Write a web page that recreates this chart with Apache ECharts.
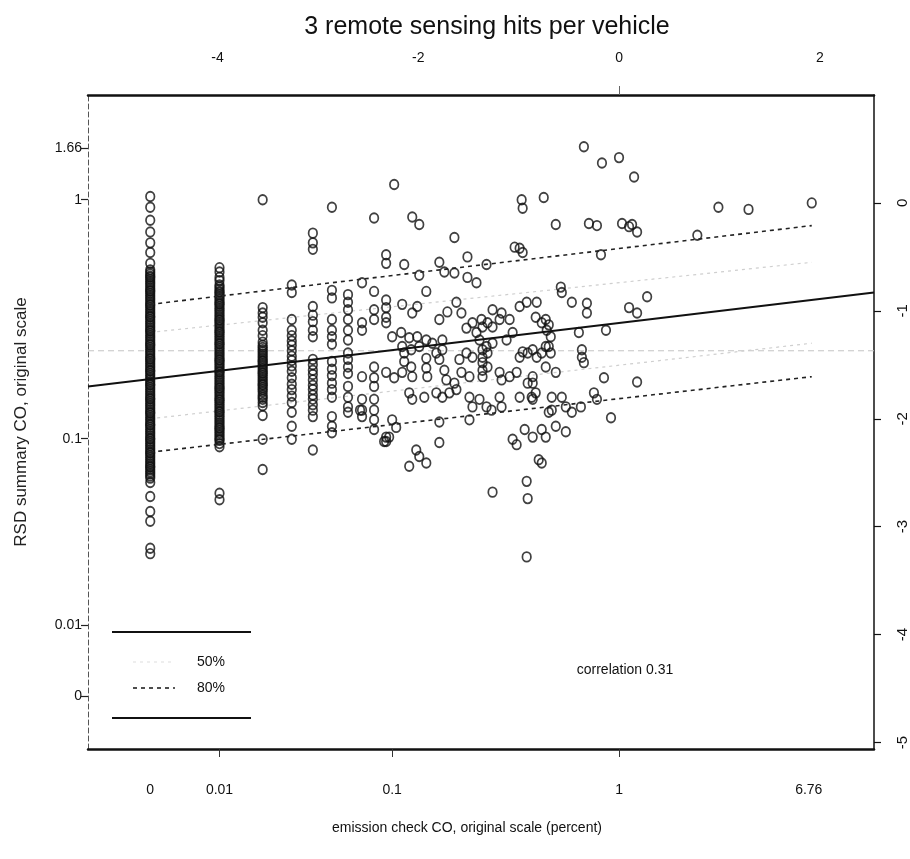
<!DOCTYPE html>
<html>
<head>
<meta charset="utf-8">
<script src="https://cdn.jsdelivr.net/npm/echarts@6/dist/echarts.min.js"></script>
<style>
  html, body { margin: 0; padding: 0; background: #fff; }
  #chart { width: 910px; height: 859px; }
</style>
</head>
<body>
<div id="chart"></div>
<script>
// ---- Axis ranges (transformed scale: top / right axes) ----
const xRange = [-5.29, 2.54];
const yRange = [-5.06, 1.0];

// ---- Tick labels ----
const topLabelVals = [-4, -2, 0, 2];
const topTickVals = [0];
const rightLabelVals = [0, -1, -2, -3, -4, -5];
const bottomLabelPos = [-4.67, -3.98, -2.26, 0, 1.89];
const bottomLabelText = ['0', '0.01', '0.1', '1', '6.76'];
const bottomTickPos = [-3.98, -2.26, 0];
const leftLabelPos = [0.51, 0.03, -2.185, -3.91, -4.57];
const leftLabelText = ['1.66', '1', '0.1', '0.01', '0'];

// ---- Discrete emission-check columns (x) and their RSD values (y) ----
const columnX = [-4.67, -3.98, -3.55, -3.26, -3.05, -2.86, -2.70, -2.56, -2.44, -2.32];
const columnY = [
  [0.06, -0.04, -0.16, -0.27, -0.37, -0.46, -0.56,
   -0.62, -0.64, -0.66, -0.68, -0.69, -0.71, -0.73, -0.75, -0.77, -0.79, -0.81, -0.82, -0.84, -0.86, -0.88, -0.90,
   -0.92, -0.94, -0.95, -0.97, -0.99, -1.01, -1.03, -1.05, -1.06, -1.08, -1.10, -1.12, -1.14, -1.16, -1.18, -1.19,
   -1.21, -1.23, -1.25, -1.27, -1.29, -1.31, -1.32, -1.34, -1.36, -1.38, -1.40, -1.42, -1.44, -1.45, -1.47, -1.49,
   -1.51, -1.53, -1.55, -1.56, -1.58, -1.60, -1.62, -1.64, -1.66, -1.68, -1.69, -1.71, -1.73, -1.75, -1.77, -1.79,
   -1.81, -1.82, -1.84, -1.86, -1.88, -1.90, -1.92, -1.94, -1.95, -1.97, -1.99, -2.01, -2.03, -2.05, -2.06, -2.08,
   -2.10, -2.12, -2.14, -2.16, -2.18, -2.19, -2.21, -2.23, -2.25, -2.27, -2.29, -2.31, -2.32, -2.34, -2.36, -2.38,
   -2.40, -2.42, -2.44, -2.45, -2.47, -2.49, -2.51, -2.53, -2.55,
   -2.59, -2.72, -2.86, -2.95, -3.20, -3.25],
  [-0.60, -0.64, -0.69, -0.72, -0.76, -0.78, -0.80, -0.82, -0.83, -0.85, -0.87, -0.89, -0.91, -0.93, -0.94, -0.96,
   -0.98, -1.00, -1.02, -1.04, -1.06, -1.08, -1.09, -1.11, -1.13, -1.15, -1.17, -1.19, -1.20, -1.22, -1.24, -1.26,
   -1.28, -1.30, -1.31, -1.33, -1.35, -1.37, -1.39, -1.41, -1.43, -1.45, -1.46, -1.48, -1.50, -1.52, -1.54, -1.56,
   -1.57, -1.59, -1.61, -1.63, -1.65, -1.67, -1.69, -1.71, -1.72, -1.74, -1.76, -1.78, -1.80, -1.82, -1.83, -1.85,
   -1.87, -1.89, -1.91, -1.93, -1.94, -1.96, -1.98, -2.00, -2.02, -2.04, -2.06, -2.08, -2.09, -2.11, -2.13, -2.15,
   -2.17, -2.19, -2.20, -2.23, -2.26, -2.69, -2.75],
  [0.03, -0.97, -1.02, -1.06, -1.11, -1.18, -1.23, -1.29, -1.32, -1.34, -1.36, -1.38, -1.40, -1.42, -1.44, -1.46,
   -1.47, -1.49, -1.51, -1.53, -1.55, -1.57, -1.58, -1.60, -1.62, -1.64, -1.66, -1.68, -1.69, -1.71, -1.73, -1.75,
   -1.78, -1.80, -1.82, -1.85, -1.88, -1.97, -2.19, -2.47],
  [-0.76, -0.83, -1.08, -1.18, -1.23, -1.28, -1.32, -1.37, -1.42, -1.46, -1.51, -1.56, -1.62, -1.68, -1.73, -1.79, -1.85, -1.94, -2.07, -2.19],
  [-0.28, -0.37, -0.43, -0.96, -1.04, -1.10, -1.18, -1.24, -1.45, -1.50, -1.55, -1.59, -1.64, -1.69, -1.73, -1.78, -1.82, -1.87, -1.92, -1.98, -2.29],
  [-0.04, -0.81, -0.88, -1.08, -1.18, -1.24, -1.31, -1.47, -1.54, -1.60, -1.67, -1.73, -1.80, -1.98, -2.07, -2.13],
  [-0.85, -0.92, -0.99, -1.08, -1.18, -1.27, -1.39, -1.45, -1.52, -1.58, -1.70, -1.80, -1.89, -1.94],
  [-0.74, -1.11, -1.18, -1.61, -1.82, -1.92, -1.98],
  [-0.14, -0.82, -0.99, -1.08, -1.52, -1.62, -1.70, -1.82, -1.92, -2.01, -2.10],
  [-0.48, -0.56, -0.90, -0.97, -1.06, -1.11, -1.57, -2.17, -2.21]
];

// ---- Remaining (x, y) pairs ----
const otherPoints = [
  [-2.24, 0.17], [-2.06, -0.13], [-1.99, -0.20], [-0.97, 0.03], [-0.96, -0.05], [-0.75, 0.05],
  [-0.63, -0.20], [-0.30, -0.19], [-0.22, -0.21], [-1.64, -0.32], [-1.04, -0.41], [-0.99, -0.42],
  [-0.96, -0.46], [-2.14, -0.57], [-1.99, -0.67], [-1.79, -0.55], [-1.74, -0.64], [-1.64, -0.65],
  [-1.51, -0.50], [-1.51, -0.69], [-1.42, -0.74], [-1.32, -0.57], [-2.26, -1.24], [-2.17, -1.20],
  [-2.09, -1.25], [-2.01, -1.24], [-1.92, -1.27], [-1.86, -1.30], [-2.16, -0.94], [-2.06, -1.02],
  [-2.01, -0.96], [-1.92, -0.82], [-1.79, -1.08], [-1.71, -1.01], [-1.62, -0.92], [-1.57, -1.02],
  [-1.46, -1.11], [-1.37, -1.08], [-1.31, -1.11], [-1.26, -0.99], [-1.17, -1.02], [-1.09, -1.08],
  [-0.99, -0.96], [-0.92, -0.92], [-0.82, -0.92], [-0.73, -1.08], [-0.70, -1.13], [-0.58, -0.78],
  [-0.57, -0.83], [-0.47, -0.92], [-0.32, -0.93], [-0.32, -1.02], [-2.16, -1.33], [-2.07, -1.36],
  [-1.99, -1.33], [-1.76, -1.27], [-1.76, -1.36], [-1.52, -1.16], [-1.42, -1.20], [-1.36, -1.15],
  [-1.26, -1.15], [-1.19, -1.08], [-1.39, -1.27], [-1.32, -1.33], [-1.26, -1.30], [-1.12, -1.27],
  [-1.06, -1.20], [-0.83, -1.06], [-0.77, -1.11], [-0.72, -1.18], [-0.68, -1.24], [-0.70, -1.33],
  [-0.40, -1.20], [-2.24, -1.62], [-2.16, -1.57], [-2.07, -1.52], [-2.06, -1.61], [-2.14, -1.39],
  [-2.14, -1.47], [-1.92, -1.44], [-1.92, -1.53], [-1.91, -1.61], [-1.82, -1.39], [-1.79, -1.45],
  [-1.74, -1.55], [-1.72, -1.64], [-1.59, -1.45], [-1.52, -1.39], [-1.46, -1.43], [-1.57, -1.57],
  [-1.49, -1.61], [-1.36, -1.36], [-1.36, -1.43], [-1.36, -1.48], [-1.36, -1.55], [-1.36, -1.61],
  [-1.31, -1.39], [-1.31, -1.52], [-1.19, -1.57], [-1.17, -1.64], [-1.09, -1.61], [-1.02, -1.57],
  [-0.99, -1.43], [-0.96, -1.38], [-0.91, -1.39], [-0.86, -1.36], [-0.82, -1.43], [-0.77, -1.39],
  [-0.73, -1.33], [-0.68, -1.39], [-0.86, -1.61], [-0.86, -1.67], [-0.83, -1.76], [-0.87, -1.80],
  [-0.73, -1.52], [-0.63, -1.57], [-0.37, -1.36], [-0.37, -1.43], [-0.35, -1.48], [-2.26, -2.01],
  [-2.22, -2.08], [-2.29, -2.17], [-2.09, -1.76], [-2.06, -1.82], [-1.94, -1.80], [-1.82, -1.76],
  [-1.76, -1.80], [-1.69, -1.76], [-1.64, -1.67], [-1.62, -1.73], [-1.49, -1.80], [-1.46, -1.89],
  [-1.39, -1.82], [-1.32, -1.89], [-1.27, -1.92], [-1.49, -2.01], [-1.79, -2.03], [-1.79, -2.22],
  [-1.19, -1.80], [-1.17, -1.89], [-0.99, -1.80], [-0.91, -1.67], [-0.86, -1.82], [-0.67, -1.80],
  [-0.67, -1.92], [-0.70, -1.94], [-0.57, -1.80], [-0.53, -1.89], [-0.47, -1.94], [-0.38, -1.89],
  [-1.06, -2.19], [-1.02, -2.24], [-0.94, -2.10], [-0.86, -2.17], [-0.77, -2.10], [-0.73, -2.17],
  [-0.63, -2.07], [-0.53, -2.12], [-2.02, -2.29], [-1.99, -2.35], [-2.09, -2.44], [-1.92, -2.41],
  [-0.80, -2.38], [-2.58, -1.92], [-2.34, -2.21], [-0.77, -2.41], [-1.26, -2.68], [-0.92, -2.58],
  [-0.91, -2.74], [-0.92, -3.28],
  [-0.35, 0.52], [-0.17, 0.37], [0.00, 0.42], [0.15, 0.24], [0.99, -0.04], [1.29, -0.06],
  [1.92, 0.00], [0.03, -0.19], [0.10, -0.22], [0.13, -0.20], [0.18, -0.27], [-0.18, -0.48],
  [0.78, -0.30], [0.10, -0.97], [0.18, -1.02], [0.28, -0.87], [-0.13, -1.18], [-0.15, -1.62],
  [0.18, -1.66], [-0.25, -1.76], [-0.22, -1.82], [-0.08, -1.99]
];

// ---- Fitted line and bands (endpoints on the transformed scale) ----
const fitLine = [[-5.29, -1.70], [2.54, -0.83]];
const band80Upper = [[-4.67, -0.94], [1.92, -0.21]];
const band80Lower = [[-4.67, -2.31], [1.92, -1.61]];
const band50Upper = [[-4.67, -1.20], [1.92, -0.55]];
const band50Lower = [[-4.67, -2.00], [1.92, -1.30]];
const meanLevel = -1.37;
const correlationText = 'correlation 0.31';

// build scatter data
const points = [];
columnX.forEach((x, i) => columnY[i].forEach(y => points.push([x, y])));
otherPoints.forEach(p => points.push(p));

function labelFrom(pos, texts) {
  return function (v) {
    let best = 0, d = Infinity;
    pos.forEach((p, i) => { const dd = Math.abs(p - v); if (dd < d) { d = dd; best = i; } });
    return texts[best];
  };
}

const FONT = "'Liberation Sans', Arial, sans-serif";
const chart = echarts.init(document.getElementById('chart'), null, { renderer: 'canvas' });

chart.setOption({
  backgroundColor: '#ffffff',
  animation: false,
  title: {
    text: '3 remote sensing hits per vehicle',
    left: 482, top: 10, textAlign: 'center',
    textStyle: { fontFamily: FONT, fontSize: 25, fontWeight: 'normal', color: '#111' }
  },
  grid: { left: 88, right: 35, top: 95, bottom: 110 },
  xAxis: [
    {
      type: 'value', position: 'bottom', min: xRange[0], max: xRange[1],
      name: 'emission check CO, original scale (percent)',
      nameLocation: 'middle', nameGap: 72,
      nameTextStyle: { fontFamily: FONT, fontSize: 14, color: '#111', padding: [0, 28, 0, 0] },
      axisLine: { show: true, onZero: false, lineStyle: { color: '#111', width: 2.5 } },
      axisTick: { show: true, inside: false, length: 8, customValues: bottomTickPos, lineStyle: { color: '#333', width: 1 } },
      axisLabel: { customValues: bottomLabelPos, formatter: labelFrom(bottomLabelPos, bottomLabelText), margin: 34, fontFamily: FONT, fontSize: 14, color: '#111' },
      splitLine: { show: false }
    },
    {
      type: 'value', position: 'top', min: xRange[0], max: xRange[1],
      axisLine: { show: true, onZero: false, lineStyle: { color: '#111', width: 2.5 } },
      axisTick: { show: true, length: 9, customValues: topTickVals, lineStyle: { color: '#666', width: 1 } },
      axisLabel: { customValues: topLabelVals, margin: 30, fontFamily: FONT, fontSize: 14, color: '#111' },
      splitLine: { show: false }
    }
  ],
  yAxis: [
    {
      type: 'value', position: 'left', min: yRange[0], max: yRange[1],
      name: 'RSD summary CO, original scale',
      nameLocation: 'middle', nameGap: 58, nameRotate: 90,
      nameTextStyle: { fontFamily: FONT, fontSize: 17, color: '#222' },
      axisLine: { show: true, onZero: false, lineStyle: { color: '#555', width: 1, type: [5, 3] } },
      axisTick: { show: true, length: 7, customValues: leftLabelPos, lineStyle: { color: '#222', width: 1.2 } },
      axisLabel: { customValues: leftLabelPos, formatter: labelFrom(leftLabelPos, leftLabelText), margin: 6, fontFamily: FONT, fontSize: 14, color: '#111' },
      splitLine: { show: false }
    },
    {
      type: 'value', position: 'right', min: yRange[0], max: yRange[1],
      axisLine: { show: true, onZero: false, lineStyle: { color: '#111', width: 1.5 } },
      axisTick: { show: true, length: 7, customValues: rightLabelVals, lineStyle: { color: '#111', width: 1.2 } },
      axisLabel: { customValues: rightLabelVals, rotate: 90, margin: 21, fontFamily: FONT, fontSize: 15, color: '#111' },
      splitLine: { show: false }
    }
  ],
  series: [
    {
      type: 'line', data: [[xRange[0], meanLevel], [xRange[1], meanLevel]], symbol: 'none',
      lineStyle: { color: '#c4c4c4', width: 1, type: [6, 4] }, silent: true, z: 1
    },
    {
      type: 'line', data: band50Upper, symbol: 'none',
      lineStyle: { color: '#cfcfcf', width: 1.2, type: [3, 4] }, silent: true, z: 1
    },
    {
      type: 'line', data: band50Lower, symbol: 'none',
      lineStyle: { color: '#cfcfcf', width: 1.2, type: [3, 4] }, silent: true, z: 1
    },
    {
      type: 'scatter', data: points, symbol: 'circle', symbolSize: [8.5, 9.5],
      itemStyle: { color: 'rgba(0,0,0,0)', borderColor: '#111', borderWidth: 1.8 }, z: 3
    },
    {
      type: 'line', data: band80Upper, symbol: 'none',
      lineStyle: { color: '#222', width: 1.6, type: [4, 4] }, silent: true, z: 4
    },
    {
      type: 'line', data: band80Lower, symbol: 'none',
      lineStyle: { color: '#222', width: 1.6, type: [4, 4] }, silent: true, z: 4
    },
    {
      type: 'line', data: fitLine, symbol: 'none',
      lineStyle: { color: '#111', width: 2 }, silent: true, z: 5
    }
  ],
  graphic: [
    { type: 'line', shape: { x1: 112, y1: 632, x2: 251, y2: 632 }, style: { stroke: '#111', lineWidth: 2 } },
    { type: 'line', shape: { x1: 112, y1: 718, x2: 251, y2: 718 }, style: { stroke: '#111', lineWidth: 2 } },
    { type: 'line', shape: { x1: 133, y1: 662, x2: 175, y2: 662 }, style: { stroke: '#dddddd', lineWidth: 1.2, lineDash: [3, 4] } },
    { type: 'line', shape: { x1: 133, y1: 688, x2: 175, y2: 688 }, style: { stroke: '#222', lineWidth: 1.6, lineDash: [4, 4] } },
    { type: 'text', x: 197, y: 662, style: { text: '50%', fontFamily: FONT, fontSize: 14, fill: '#111', verticalAlign: 'middle' } },
    { type: 'text', x: 197, y: 688, style: { text: '80%', fontFamily: FONT, fontSize: 14, fill: '#111', verticalAlign: 'middle' } },
    { type: 'text', x: 625, y: 670, style: { text: correlationText, fontFamily: FONT, fontSize: 14, fill: '#111', align: 'center', verticalAlign: 'middle' } }
  ]
});
</script>
</body>
</html>
